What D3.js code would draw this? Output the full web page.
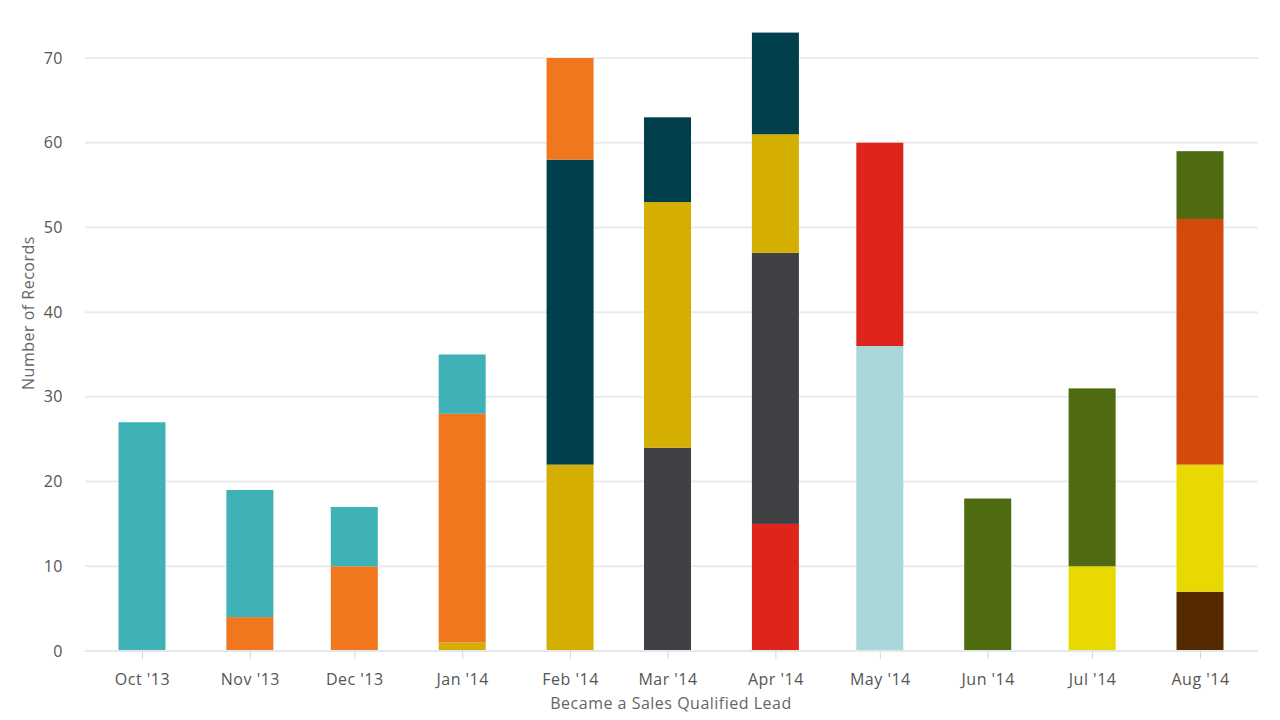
<!DOCTYPE html>
<html>
<head>
<meta charset="utf-8">
<script src="https://cdn.jsdelivr.net/npm/d3@7"></script>
<style>
  html, body { margin: 0; padding: 0; background: #ffffff; }
  svg { display: block; font-family: "Open Sans", Lato, sans-serif; }
</style>
</head>
<body>
<svg id="chart" width="1280" height="720"></svg>
<script>
// ---- Data ----
const months = ["2013-10", "2013-11", "2013-12", "2014-01", "2014-02", "2014-03",
                "2014-04", "2014-05", "2014-06", "2014-07", "2014-08"];
// stacking order, bottom to top
const seriesKeys = ["brown", "yellow", "lightTeal", "red", "gray", "gold",
                    "navy", "orange", "teal", "darkOrange", "olive"];
const seriesColors = ["#552a00", "#e8da00", "#a9d7da", "#de241b", "#3f4144", "#d4ae00",
                      "#013f4c", "#f0771e", "#3fb2b7", "#d34a0b", "#4e6b11"];
const brown      = [0, 0, 0, 0, 0, 0, 0, 0, 0, 0, 7];
const yellow     = [0, 0, 0, 0, 0, 0, 0, 0, 0, 10, 15];
const lightTeal  = [0, 0, 0, 0, 0, 0, 0, 36, 0, 0, 0];
const red        = [0, 0, 0, 0, 0, 0, 15, 24, 0, 0, 0];
const gray       = [0, 0, 0, 0, 0, 24, 32, 0, 0, 0, 0];
const gold       = [0, 0, 0, 1, 22, 29, 14, 0, 0, 0, 0];
const navy       = [0, 0, 0, 0, 36, 10, 12, 0, 0, 0, 0];
const orange     = [0, 4, 10, 27, 12, 0, 0, 0, 0, 0, 0];
const teal       = [27, 15, 7, 7, 0, 0, 0, 0, 0, 0, 0];
const darkOrange = [0, 0, 0, 0, 0, 0, 0, 0, 0, 0, 29];
const olive      = [0, 0, 0, 0, 0, 0, 0, 0, 18, 21, 8];
const yTicks = [0, 10, 20, 30, 40, 50, 60, 70];
const xTitle = "Became a Sales Qualified Lead";
const yTitle = "Number of Records";

const seriesValues = { brown, yellow, lightTeal, red, gray, gold, navy, orange, teal, darkOrange, olive };
const parse = d3.timeParse("%Y-%m");
const rows = months.map((m, i) => {
  const r = { date: parse(m) };
  seriesKeys.forEach(k => r[k] = seriesValues[k][i]);
  return r;
});

// ---- Layout ----
const svg = d3.select("#chart");
const pLeft = 85, pRight = 1258, pTop = 58, pBottom = 651;
const barW = 47;
const FONT = "'Open Sans', Lato, sans-serif";

const x = d3.scaleTime()
  .domain([rows[0].date, rows[rows.length - 1].date])
  .range([142, 1200]);
const y = d3.scaleLinear().domain([0, 70]).range([pBottom, pTop]);
const color = d3.scaleOrdinal().domain(seriesKeys).range(seriesColors);

// gridlines
svg.append("g")
  .selectAll("line")
  .data(yTicks.filter(t => t > 0))
  .join("line")
  .attr("x1", pLeft).attr("x2", pRight)
  .attr("y1", d => y(d)).attr("y2", d => y(d))
  .attr("stroke", "#ebebeb").attr("stroke-width", 2);

// bars
const stacked = d3.stack().keys(seriesKeys)(rows);
svg.append("g")
  .selectAll("g")
  .data(stacked)
  .join("g")
  .attr("fill", d => color(d.key))
  .selectAll("rect")
  .data(d => d.filter(p => p[1] - p[0] > 0))
  .join("rect")
  .attr("x", d => x(d.data.date) - barW / 2)
  .attr("width", barW)
  .attr("y", d => y(d[1]))
  .attr("height", d => y(d[0]) - y(d[1]));

// x axis
const xAxis = svg.append("g")
  .attr("transform", `translate(0,${pBottom})`)
  .call(d3.axisBottom(x)
    .tickValues(rows.map(r => r.date))
    .tickFormat(d3.timeFormat("%b '%y"))
    .tickSize(8)
    .tickPadding(15));
xAxis.select(".domain").attr("d", `M${pLeft},0H${pRight}`)
  .attr("stroke", "#e3e8ec").attr("stroke-width", 2);
xAxis.selectAll(".tick line").attr("stroke", "#d6d6d6");
xAxis.selectAll("text").attr("fill", "#555").attr("font-size", 16)
  .attr("letter-spacing", 0.5).attr("font-family", FONT);

// y axis
const yAxis = svg.append("g")
  .attr("transform", `translate(${pLeft},0)`)
  .call(d3.axisLeft(y).tickValues(yTicks).tickSize(0).tickPadding(22));
yAxis.select(".domain").remove();
yAxis.selectAll("text").attr("fill", "#555").attr("font-size", 16)
  .attr("letter-spacing", 0.5).attr("font-family", FONT);

// titles
svg.append("text")
  .attr("x", 671).attr("y", 709)
  .attr("text-anchor", "middle")
  .attr("fill", "#666").attr("font-size", 16).attr("letter-spacing", 0.5)
  .attr("font-family", FONT)
  .text(xTitle);
svg.append("text")
  .attr("transform", `translate(34,313) rotate(-90)`)
  .attr("text-anchor", "middle")
  .attr("fill", "#666").attr("font-size", 16).attr("letter-spacing", 0.5)
  .attr("font-family", FONT)
  .text(yTitle);
</script>
</body>
</html>
